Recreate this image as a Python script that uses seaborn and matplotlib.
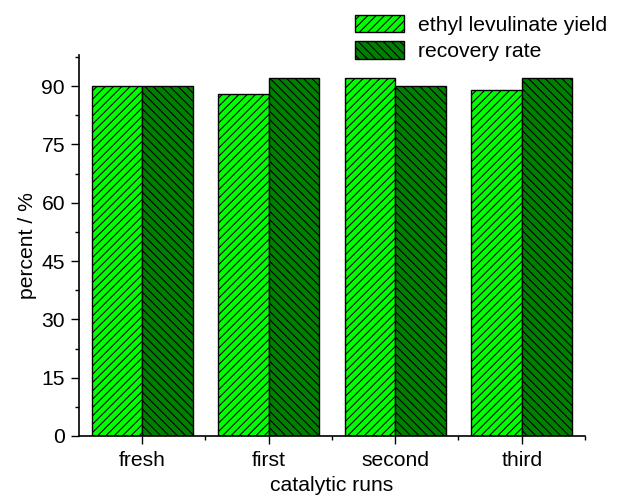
import matplotlib
matplotlib.use("Agg")
import matplotlib.pyplot as plt
import seaborn as sns
import pandas as pd
from matplotlib.ticker import MultipleLocator
from matplotlib.patches import Patch

categories = ["fresh", "first", "second", "third"]
series_names = ["ethyl levulinate yield", "recovery rate"]
yield_vals = [90, 88, 92, 89]
recovery_vals = [90, 92, 90, 92]

df = pd.DataFrame({
    "run": categories * 2,
    "series": [series_names[0]] * 4 + [series_names[1]] * 4,
    "value": yield_vals + recovery_vals,
})

sns.set_theme(style="ticks")
plt.rcParams["font.family"] = ["Liberation Sans", "DejaVu Sans"]
plt.rcParams["hatch.linewidth"] = 0.8
plt.rcParams["hatch.color"] = "black"
plt.rcParams["text.color"] = "black"
plt.rcParams["axes.labelcolor"] = "black"

colors = ["#00FF00", "#008000"]
hatches = ["////", "\\\\\\\\"]
FS = 15.2

fig = plt.figure(figsize=(6.19, 4.99), dpi=100)
ax = fig.add_axes([0.1276, 0.1263, 0.8174, 0.7635])

sns.barplot(data=df, x="run", y="value", hue="series", palette=colors,
            order=categories, hue_order=series_names, width=0.8,
            saturation=1, edgecolor="black", linewidth=1.0, ax=ax, legend=False)

for i, cont in enumerate(ax.containers):
    for p in cont:
        p.set_hatch(hatches[i])
        p.set_edgecolor("black")

ax.set_xlim(-0.5, 3.5)
ax.set_ylim(0, 98)
ax.yaxis.set_major_locator(MultipleLocator(15))
ax.yaxis.set_minor_locator(MultipleLocator(7.5))
ax.set_xticks(range(4))
ax.set_xticks([0.5, 1.5, 2.5, 3.5], minor=True)
ax.tick_params(axis="both", which="major", direction="out", length=6, width=1,
               labelsize=FS, colors="black")
ax.tick_params(axis="x", which="major", pad=5)
ax.tick_params(axis="y", which="major", pad=4)
ax.tick_params(axis="both", which="minor", direction="out", length=3, width=1,
               colors="black")
for s in ["top", "right"]:
    ax.spines[s].set_visible(False)
for s in ["left", "bottom"]:
    ax.spines[s].set_linewidth(1.2)
    ax.spines[s].set_color("black")
ax.set_xlabel("catalytic runs", fontsize=FS, labelpad=4, color="black")
ax.set_ylabel("percent / %", fontsize=FS, labelpad=3, color="black")

handles = [Patch(facecolor=colors[i], edgecolor="black", hatch=hatches[i], linewidth=1.0)
           for i in range(2)]
fig.legend(handles, series_names, loc="upper left", bbox_to_anchor=(0.55, 1.0),
           frameon=False, fontsize=FS, handlelength=2.3, handleheight=0.9,
           handletextpad=0.65, labelspacing=0.3, borderaxespad=0.3,
           labelcolor="black")

fig.savefig("out.png", dpi=100)
